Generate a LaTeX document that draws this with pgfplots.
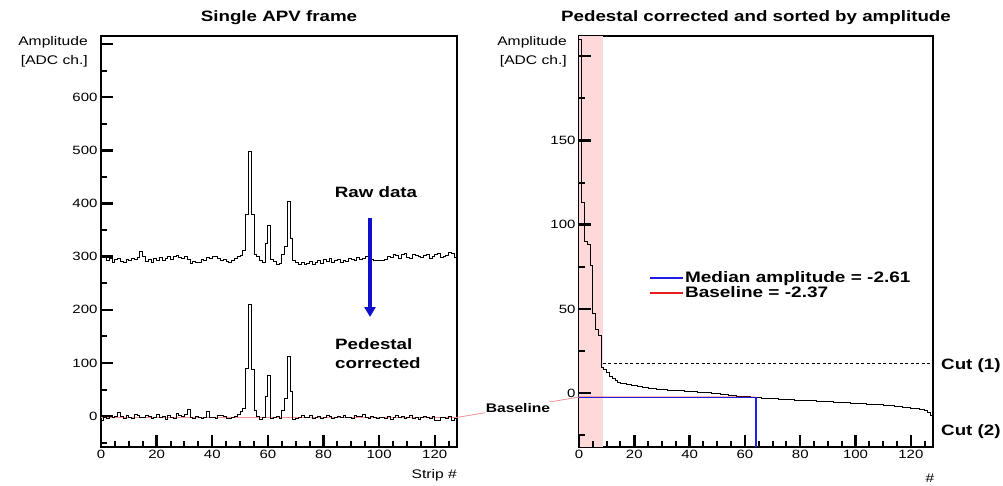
\documentclass[border=0pt]{standalone}
\usepackage{fontspec}
\setmainfont{Liberation Sans}[FakeStretch=1.25]
\usepackage{pgfplots}
\pgfplotsset{compat=1.18}
\usetikzlibrary{arrows.meta}

\definecolor{cutshade}{RGB}{255,217,217}
\definecolor{medblue}{RGB}{30,30,230}
\definecolor{basered}{RGB}{230,30,30}
\definecolor{arrowblue}{RGB}{15,15,205}

\newcommand{\fs}[1]{\fontsize{#1}{#1}\selectfont}

% ROOT-like frame: labels from pgfplots, tick lines drawn in axis units
\pgfplotsset{rootframe/.style={
    scale only axis,
    height=411pt,
    xmin=0, xmax=128,
    axis line style={line width=1.9pt},
    tick pos=left, tick align=inside,
    major tick length=0pt, minor tick length=0pt,
    xtick={0,20,...,120},
    ticklabel style={font=\fs{12}},
    /pgf/number format/assume math mode=true,
    clip=false,
}}
\tikzset{tk/.style={black, line width=2.4pt}, mtk/.style={black, line width=2pt}}

\begin{document}
\begin{tikzpicture}
\useasboundingbox (0,0) rectangle (1003pt,485pt);

% ---- left: single APV frame (1 x unit = 2.781pt, 1 y unit = 0.5317pt)
\begin{axis}[rootframe,
    at={(101pt,38pt)}, anchor=south west, width=356pt,
    ymin=-58, ymax=715,
    ytick={0,100,...,700}, yticklabels={0,100,200,300,400,500,600,},
]
\addplot[basered!50, line width=0.8pt] coordinates {(0,-2.37) (128,-2.37)};
% raw data
\addplot[const plot mark left, black, line width=0.9pt] coordinates {
(0,301) (1,300) (2,292) (3,296) (4,290) (5,294) (6,297) (7,291) (8,289) (9,295)
(10,293) (11,296) (12,294) (13,298) (14,309) (15,300) (16,291) (17,295) (18,289) (19,297)
(20,293) (21,299) (22,292) (23,297) (24,300) (25,294) (26,301) (27,303) (28,298) (29,296)
(30,300) (31,295) (32,288) (33,291) (34,289) (35,290) (36,294) (37,293) (38,298) (39,296)
(40,300) (41,301) (42,297) (43,292) (44,294) (45,291) (46,289) (47,292) (48,297) (49,300)
(50,303) (51,311) (52,379) (53,497) (54,379) (55,305) (56,300) (57,292) (58,290) (59,325)
(60,358) (61,295) (62,291) (63,285) (64,287) (65,304) (66,320) (67,403) (68,335) (69,292)
(70,290) (71,286) (72,289) (73,285) (74,287) (75,291) (76,286) (77,290) (78,293) (79,288)
(80,294) (81,291) (82,296) (83,289) (84,292) (85,295) (86,290) (87,293) (88,291) (89,297)
(90,294) (91,293) (92,299) (93,295) (94,297) (95,301) (96,300) (97,294) (98,293) (99,293)
(100,293) (101,293) (102,294) (103,301) (104,299) (105,305) (106,302) (107,296) (108,304) (109,306)
(110,298) (111,297) (112,304) (113,303) (114,300) (115,299) (116,302) (117,304) (118,297) (119,301)
(120,305) (121,306) (122,299) (123,300) (124,302) (125,307) (126,306) (127,298) (128,298)
};
% pedestal corrected
\addplot[const plot mark left, black, line width=0.9pt] coordinates {
(0,-8) (1,-2) (2,-4) (3,1) (4,-3) (5,-1) (6,7) (7,0) (8,-5) (9,2)
(10,-3) (11,-4) (12,3) (13,1) (14,-2) (15,-3) (16,2) (17,-1) (18,-5) (19,-2)
(20,4) (21,-3) (22,-1) (23,-7) (24,1) (25,-2) (26,-4) (27,5) (28,2) (29,-1)
(30,3) (31,12) (32,-3) (33,-4) (34,-1) (35,-2) (36,-5) (37,-3) (38,8) (39,-3)
(40,-2) (41,-4) (42,1) (43,2) (44,-1) (45,-5) (46,-4) (47,-2) (48,0) (49,4)
(50,8) (51,15) (52,90) (53,211) (54,88) (55,10) (56,-1) (57,-6) (58,-3) (59,37)
(60,77) (61,-4) (62,-2) (63,-1) (64,-5) (65,11) (66,33) (67,113) (68,47) (69,-6)
(70,-4) (71,-2) (72,1) (73,-3) (74,-2) (75,1) (76,-4) (77,-3) (78,-1) (79,-5)
(80,-2) (81,1) (82,-1) (83,-4) (84,-3) (85,0) (86,-2) (87,2) (88,-3) (89,-2)
(90,-4) (91,1) (92,0) (93,-1) (94,3) (95,-2) (96,-4) (97,-1) (98,-3) (99,-5)
(100,-3) (101,-2) (102,-4) (103,-1) (104,-6) (105,-3) (106,2) (107,-2) (108,-1) (109,-5)
(110,-3) (111,1) (112,-4) (113,-2) (114,-6) (115,-3) (116,0) (117,-2) (118,-4) (119,-1)
(120,-9) (121,-8) (122,-3) (123,-2) (124,-4) (125,-1) (126,-9) (127,-5) (128,-5)
};
\pgfplotsinvokeforeach{0,20,...,120}{\draw[tk] (axis cs:#1,-58) -- (axis cs:#1,-35.43);}
\pgfplotsinvokeforeach{5,10,...,125}{\draw[mtk] (axis cs:#1,-58) -- (axis cs:#1,-46.71);}
\pgfplotsinvokeforeach{0,100,...,700}{\draw[tk] (axis cs:0,#1) -- (axis cs:4.315,#1);}
\pgfplotsinvokeforeach{-50,50,...,650}{\draw[mtk] (axis cs:0,#1) -- (axis cs:2.157,#1);}
\coordinate (blL) at (axis cs:128,-2.37);
\end{axis}

% ---- right: sorted by amplitude (1 x unit = 2.766pt, 1 y unit = 1.684pt)
\begin{axis}[rootframe,
    at={(579pt,38pt)}, anchor=south west, width=354pt,
    ymin=-32, ymax=212,
    ytick={0,50,...,200}, yticklabels={0,50,100,150,},
    legend style={draw=none, fill=none, at={(axis cs:25.3,63.9)}, anchor=west,
        font=\bfseries\fs{15.2}, inner sep=0pt, row sep=0pt,
        nodes={inner sep=1.4pt}},
    legend cell align=left,
    legend image code/.code={\draw[#1] (0pt,0pt) -- (24pt,0pt); \path (0pt,0pt) -- (33pt,0pt);},
]
\addplot[draw=none, fill=cutshade, forget plot] coordinates {(0,-32) (8.6,-32) (8.6,212) (0,212)} -- cycle;
\addplot[black, line width=0.7pt, dash pattern=on 3pt off 2.5pt, forget plot] coordinates {(8.6,17.4) (128,17.4)};
\addplot[const plot mark left, black, line width=0.9pt, forget plot] coordinates {
(0,210) (1,113) (2,90) (3,88) (4,76) (5,47) (6,37.5) (7,34) (8,15.5) (9,14)
(10,12) (11,10) (12,8.5) (13,7.5) (14,6.5) (15,6) (16,5.6) (17,5.3) (18,5) (19,4.7)
(20,4.4) (21,4.1) (22,3.8) (23,3.5) (24,3.2) (25,3.0) (26,2.8) (27,2.6) (28,2.4) (29,2.2)
(30,2.0) (31,1.9) (32,1.8) (33,1.7) (34,1.6) (35,1.5) (36,1.4) (37,1.3) (38,1.1) (39,1.0)
(40,0.9) (41,0.8) (42,0.7) (43,0.6) (44,0.5) (45,0.4) (46,0.2) (47,0.1) (48,0.0) (49,-0.2)
(50,-0.4) (51,-0.6) (52,-0.8) (53,-1.0) (54,-1.2) (55,-1.4) (56,-1.6) (57,-1.8) (58,-1.9) (59,-2.0)
(60,-2.1) (61,-2.2) (62,-2.35) (63,-2.5) (64,-2.61) (65,-2.75) (66,-2.9) (67,-3.0) (68,-3.1) (69,-3.2)
(70,-3.3) (71,-3.4) (72,-3.5) (73,-3.6) (74,-3.7) (75,-3.8) (76,-3.9) (77,-4.0) (78,-4.1) (79,-4.2)
(80,-4.3) (81,-4.4) (82,-4.5) (83,-4.55) (84,-4.6) (85,-4.65) (86,-4.7) (87,-4.8) (88,-4.9) (89,-5.0)
(90,-5.1) (91,-5.2) (92,-5.3) (93,-5.4) (94,-5.5) (95,-5.6) (96,-5.7) (97,-5.8) (98,-5.9) (99,-6.0)
(100,-6.1) (101,-6.2) (102,-6.3) (103,-6.4) (104,-6.5) (105,-6.6) (106,-6.7) (107,-6.8) (108,-6.9) (109,-7.0)
(110,-7.1) (111,-7.2) (112,-7.4) (113,-7.6) (114,-7.8) (115,-8.0) (116,-8.2) (117,-8.4) (118,-8.6) (119,-8.8)
(120,-9.0) (121,-9.2) (122,-9.4) (123,-9.7) (124,-10.0) (125,-10.5) (126,-11.5) (127,-13.5) (128,-13.5)
};
\addplot[basered, opacity=0.3, line width=2.6pt, forget plot] coordinates {(0,-2.37) (64,-2.37)};
\addplot[medblue, line width=1.3pt, forget plot] coordinates {(0,-2.61) (64,-2.61) (64,-32)};
\addlegendimage{medblue, line width=1.5pt}
\addlegendentry{Median amplitude = -2.61}
\addlegendimage{basered, line width=1.3pt}
\addlegendentry{Baseline = -2.37}
\pgfplotsinvokeforeach{0,20,...,120}{\draw[tk] (axis cs:#1,-32) -- (axis cs:#1,-24.88);}
\pgfplotsinvokeforeach{5,10,...,125}{\draw[mtk] (axis cs:#1,-32) -- (axis cs:#1,-28.44);}
\pgfplotsinvokeforeach{0,50,...,200}{\draw[tk] (axis cs:0,#1) -- (axis cs:4.339,#1);}
\pgfplotsinvokeforeach{-25,25,...,175}{\draw[mtk] (axis cs:0,#1) -- (axis cs:2.170,#1);}
\coordinate (blR) at (axis cs:0,-2.37);
\end{axis}

% connection of the two baselines
\draw[basered!50, line width=0.8pt] (blL) -- (blR);
\node[fill=white, inner sep=1pt, font=\bfseries\fs{12.5}] at (518pt,77pt) {Baseline};

% titles and labels
\node[font=\bfseries\fs{15}, inner sep=0pt] at (279pt,467pt) {Single APV frame};
\node[font=\bfseries\fs{15}, inner sep=0pt] at (756pt,467pt) {Pedestal corrected and sorted by amplitude};
\node[font=\fs{12.5}, anchor=east, inner sep=0pt] at (88pt,442.3pt) {Amplitude};
\node[font=\fs{12.5}, anchor=east, inner sep=0pt] at (88pt,423.3pt) {[ADC ch.]};
\node[font=\fs{12.5}, anchor=east, inner sep=0pt] at (567pt,442.3pt) {Amplitude};
\node[font=\fs{12.5}, anchor=east, inner sep=0pt] at (567pt,423.3pt) {[ADC ch.]};
\node[font=\fs{12.5}, anchor=east, inner sep=0pt] at (457pt,10pt) {Strip \#};
\node[font=\fs{12.5}, inner sep=0pt] at (930pt,7pt) {\#};

\node[font=\bfseries\fs{15}, inner sep=0pt] at (376pt,293.3pt) {Raw data};
\draw[arrowblue, line width=4pt, -{Triangle[width=11pt,length=10pt]}] (370pt,267pt) -- (370pt,168pt);
\node[font=\bfseries\fs{15}, anchor=west, inner sep=0pt] at (335pt,141pt) {Pedestal};
\node[font=\bfseries\fs{15}, anchor=west, inner sep=0pt] at (335pt,122.3pt) {corrected};

\node[font=\bfseries\fs{15}, anchor=west, inner sep=0pt] at (941pt,119pt) {Cut (1)};
\node[font=\bfseries\fs{15}, anchor=west, inner sep=0pt] at (941pt,53pt) {Cut (2)};
\end{tikzpicture}
\end{document}
